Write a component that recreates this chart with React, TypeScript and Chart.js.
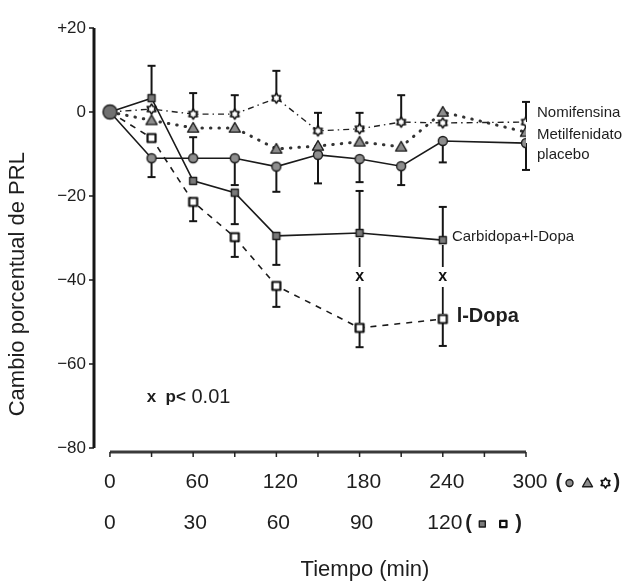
import React, { useEffect, useRef } from "react";
import { Chart, registerables } from "chart.js";

Chart.register(...registerables);

const FONT = '"Liberation Sans", Arial, Helvetica, sans-serif';

// ---- Data (300-min time scale for the first three series) ----
const timesMin = [0, 30, 60, 90, 120, 150, 180, 210, 240, 300];
const nomifensina = [0, 0.7, -0.5, -0.5, 3.3, -4.5, -4, -2.4, -2.6, -2.4];
const nomifensinaErrTo = [null, null, 4.5, 4, 9.8, -0.2, -0.2, 4, null, 2.4];
const metilfenidato = [0, -2, -3.8, -3.8, -8.8, -8.1, -7.1, -8.3, 0, -4.8];
const placebo = [0, -11, -11, -11, -13, -10.2, -11.2, -12.9, -6.9, -7.4];
const placeboErrTo = [null, -15.5, -6, -17.4, -19, -17, -16.7, -17.4, -12, -13.8];

// ---- Data (120-min time scale for the dopa series) ----
const timesDopa = [0, 15, 30, 45, 60, 90, 120];
const carbidopa = [0, 3.3, -16.4, -19.2, -29.5, -28.8, -30.5];
const carbidopaErrTo = [null, 11, null, -26.7, -36.4, -18.8, -22.6];
const lDopa = [0, -6.2, -21.4, -29.8, -41.4, -51.4, -49.3];
const lDopaErrTo = [null, null, -26, -34.5, -46.4, -56, -55.7];
const sigTimes = [90, 120];
const sigMarkAt = [-39.3, -39.3];

// ---- Axes ----
const yTicks = [20, 0, -20, -40, -60, -80];
const yTickLabels = ["+20", "0", "\u221220", "\u221240", "\u221260", "\u221280"];
const xTickMarks = [0, 30, 60, 90, 120, 150, 180, 210, 240, 270, 300];
const xLabels300 = [0, 60, 120, 180, 240, 300];
const xLabels120 = [0, 30, 60, 90, 120];
const DOPA_TO_MAIN = 300 / 150; // 120 min on the lower row sits under 240 on the upper row

type Kind = "dot" | "circle" | "triangle" | "star" | "fsquare" | "osquare";

function drawShape(ctx: CanvasRenderingContext2D, kind: Kind, cx: number, cy: number, r: number) {
  ctx.save();
  ctx.lineJoin = "round";
  ctx.beginPath();
  let fill = "#8c8c8c";
  let stroke = "#1c1c1c";
  let lw = 1.4;
  if (kind === "dot" || kind === "circle") {
    ctx.arc(cx, cy, r, 0, Math.PI * 2);
    fill = kind === "dot" ? "#707070" : "#8e8e8e";
  } else if (kind === "triangle") {
    ctx.moveTo(cx, cy - r);
    ctx.lineTo(cx + r, cy + r * 0.75);
    ctx.lineTo(cx - r, cy + r * 0.75);
    ctx.closePath();
  } else if (kind === "star") {
    for (let k = 0; k < 12; k++) {
      const a = -Math.PI / 2 + (k * Math.PI) / 6;
      const rr = k % 2 === 0 ? r : r * 0.6;
      const px = cx + rr * Math.cos(a);
      const py = cy + rr * Math.sin(a);
      if (k === 0) ctx.moveTo(px, py);
      else ctx.lineTo(px, py);
    }
    ctx.closePath();
    fill = "#ffffff";
    stroke = "#111";
    lw = 1.6;
  } else if (kind === "fsquare") {
    ctx.rect(cx - r, cy - r, 2 * r, 2 * r);
    fill = "#7a7a7a";
  } else {
    ctx.rect(cx - r, cy - r, 2 * r, 2 * r);
    fill = "#ffffff";
    stroke = "#111";
    lw = 2.2;
  }
  ctx.fillStyle = fill;
  ctx.fill();
  ctx.lineWidth = lw;
  ctx.strokeStyle = stroke;
  ctx.stroke();
  ctx.restore();
}

function makeMarker(kind: Kind, r: number): HTMLCanvasElement {
  const size = Math.ceil(2 * r + 5);
  const c = document.createElement("canvas");
  c.width = size;
  c.height = size;
  const ctx = c.getContext("2d")!;
  drawShape(ctx, kind, size / 2, size / 2, r);
  return c;
}

export default function App() {
  const ref = useRef<HTMLCanvasElement | null>(null);

  useEffect(() => {
    document.body.style.margin = "0";
    const canvas = ref.current;
    if (!canvas) return;

    const mainPts = (vals: number[]) => timesMin.map((t, i) => ({ x: t, y: vals[i] }));
    const dopaPts = (vals: number[]) => timesDopa.map((t, i) => ({ x: t * DOPA_TO_MAIN, y: vals[i] }));
    const hideFirst = (n: number, r: number) => Array.from({ length: n }, (_, i) => (i === 0 ? 0 : r));

    const starImg = makeMarker("star", 5);
    const triImg = makeMarker("triangle", 5.5);
    const circImg = makeMarker("circle", 4.5);
    const fsqImg = makeMarker("fsquare", 3.5);
    const osqImg = makeMarker("osquare", 4);
    const dotImg = makeMarker("dot", 7);

    const errorPlugin = {
      id: "errorBars",
      beforeDatasetsDraw(chart: any) {
        const { ctx, scales } = chart;
        const xs = scales.x;
        const ys = scales.y;
        ctx.save();
        ctx.strokeStyle = "#151515";
        ctx.lineWidth = 2;
        ctx.lineCap = "butt";
        const bar = (xv: number, yv: number, ye: number | null) => {
          if (ye === null || ye === undefined) return;
          const px = xs.getPixelForValue(xv);
          const py = ys.getPixelForValue(yv);
          const pe = ys.getPixelForValue(ye);
          ctx.beginPath();
          ctx.moveTo(px, py);
          ctx.lineTo(px, pe);
          ctx.stroke();
          ctx.beginPath();
          ctx.moveTo(px - 4, pe);
          ctx.lineTo(px + 4, pe);
          ctx.stroke();
        };
        timesMin.forEach((t, i) => {
          bar(t, nomifensina[i], nomifensinaErrTo[i]);
          bar(t, placebo[i], placeboErrTo[i]);
        });
        timesDopa.forEach((t, i) => {
          bar(t * DOPA_TO_MAIN, carbidopa[i], carbidopaErrTo[i]);
          bar(t * DOPA_TO_MAIN, lDopa[i], lDopaErrTo[i]);
        });
        // significance connectors
        ctx.lineWidth = 1.8;
        ctx.fillStyle = "#111";
        ctx.font = `bold 16px ${FONT}`;
        ctx.textAlign = "center";
        ctx.textBaseline = "middle";
        sigTimes.forEach((t, i) => {
          const idx = timesDopa.indexOf(t);
          const px = xs.getPixelForValue(t * DOPA_TO_MAIN);
          const top = ys.getPixelForValue(carbidopa[idx]);
          const bot = ys.getPixelForValue(lDopa[idx]);
          const mid = ys.getPixelForValue(sigMarkAt[i]);
          ctx.beginPath();
          ctx.moveTo(px, top + 5);
          ctx.lineTo(px, mid - 10);
          ctx.moveTo(px, mid + 10);
          ctx.lineTo(px, bot - 5);
          ctx.stroke();
          ctx.fillText("x", px, mid);
        });
        ctx.restore();
      },
    };

    const axesPlugin = {
      id: "customAxes",
      afterDraw(chart: any) {
        const { ctx, scales } = chart;
        const xs = scales.x;
        const ys = scales.y;
        ctx.save();
        // y axis
        const ax = chart.chartArea.left;
        ctx.strokeStyle = "#161616";
        ctx.lineWidth = 3;
        ctx.beginPath();
        ctx.moveTo(ax, ys.getPixelForValue(yTicks[0]));
        ctx.lineTo(ax, ys.getPixelForValue(yTicks[yTicks.length - 1]));
        ctx.stroke();
        ctx.lineWidth = 1.5;
        ctx.fillStyle = "#1e1e1e";
        ctx.font = `17px ${FONT}`;
        ctx.textAlign = "right";
        ctx.textBaseline = "middle";
        yTicks.forEach((v, i) => {
          const py = ys.getPixelForValue(v);
          ctx.beginPath();
          ctx.moveTo(ax - 5, py);
          ctx.lineTo(ax, py);
          ctx.stroke();
          ctx.fillText(yTickLabels[i], ax - 8, py);
        });
        // y title
        ctx.save();
        ctx.translate(18, ys.getPixelForValue(-41));
        ctx.rotate(-Math.PI / 2);
        ctx.textAlign = "center";
        ctx.font = `22px ${FONT}`;
        ctx.fillText("Cambio porcentual de PRL", 0, 0);
        ctx.restore();

        // x axis
        const axisY = chart.chartArea.bottom + 4;
        const x0 = xs.getPixelForValue(0);
        const x1 = xs.getPixelForValue(300);
        ctx.strokeStyle = "#3a3a3a";
        ctx.lineWidth = 3;
        ctx.beginPath();
        ctx.moveTo(x0, axisY);
        ctx.lineTo(x1, axisY);
        ctx.stroke();
        ctx.lineWidth = 1.5;
        ctx.strokeStyle = "#222";
        xTickMarks.forEach((v) => {
          const px = xs.getPixelForValue(v);
          ctx.beginPath();
          ctx.moveTo(px, axisY);
          ctx.lineTo(px, axisY + 5);
          ctx.stroke();
        });
        ctx.font = `21px ${FONT}`;
        ctx.textAlign = "center";
        ctx.textBaseline = "middle";
        ctx.fillStyle = "#1e1e1e";
        const row1 = axisY + 30;
        const row2 = axisY + 71;
        xLabels300.forEach((v) => {
          const px = xs.getPixelForValue(v) + (v === 0 ? 0 : 4);
          ctx.fillText(String(v), px, row1);
          if (v === 300) {
            const right = px + ctx.measureText("300").width / 2;
            ctx.textAlign = "left";
            ctx.font = `bold 20px ${FONT}`;
            ctx.fillText("(", right + 8, row1);
            ctx.fillText(")", right + 66, row1);
            ctx.font = `21px ${FONT}`;
            ctx.textAlign = "center";
            drawShape(ctx, "circle", right + 22, row1 + 1, 3.5);
            drawShape(ctx, "triangle", right + 40, row1 + 1, 5);
            drawShape(ctx, "star", right + 58, row1 + 1, 5);
          }
        });
        xLabels120.forEach((v) => {
          const px = xs.getPixelForValue(v * DOPA_TO_MAIN) + (v === 0 ? 0 : 2);
          ctx.fillText(String(v), px, row2);
          if (v === 120) {
            const right = px + ctx.measureText("120").width / 2;
            ctx.textAlign = "left";
            ctx.font = `bold 20px ${FONT}`;
            ctx.fillText("(", right + 3, row2);
            ctx.fillText(")", right + 53, row2);
            ctx.font = `21px ${FONT}`;
            ctx.textAlign = "center";
            drawShape(ctx, "fsquare", right + 20, row2 + 1, 3);
            drawShape(ctx, "osquare", right + 41, row2 + 1, 3.2);
          }
        });
        ctx.font = `22px ${FONT}`;
        ctx.fillText("Tiempo (min)", (x0 + x1) / 2 + 47, axisY + 118);

        // series labels
        ctx.textAlign = "left";
        ctx.font = `15px ${FONT}`;
        ctx.fillText("Nomifensina", xs.getPixelForValue(300) + 11, ys.getPixelForValue(-0.2));
        ctx.fillText("Metilfenidato", xs.getPixelForValue(300) + 11, ys.getPixelForValue(-5.4));
        ctx.fillText("placebo", xs.getPixelForValue(300) + 11, ys.getPixelForValue(-10.2));
        ctx.fillText("Carbidopa+l-Dopa", xs.getPixelForValue(246.6), ys.getPixelForValue(-29.8));
        ctx.font = `bold 20px ${FONT}`;
        ctx.fillText("l-Dopa", xs.getPixelForValue(250), ys.getPixelForValue(-48.8));
        // significance note
        ctx.font = `bold 17px ${FONT}`;
        ctx.fillText("x  p<", xs.getPixelForValue(26.5), ys.getPixelForValue(-68));
        const w = ctx.measureText("x  p<").width;
        ctx.font = `20px ${FONT}`;
        ctx.fillText(" 0.01", xs.getPixelForValue(26.5) + w, ys.getPixelForValue(-68));
        ctx.restore();
      },
    };

    const chart = new Chart(canvas, {
      type: "line",
      data: {
        datasets: [
          {
            label: "origen",
            data: [{ x: timesMin[0], y: placebo[0] }],
            showLine: false,
            pointStyle: dotImg as any,
            pointRadius: 7,
          },
          {
            label: "Nomifensina",
            data: mainPts(nomifensina),
            borderColor: "#222",
            borderWidth: 1.4,
            borderDash: [6, 4, 1.5, 4],
            pointStyle: starImg as any,
            pointRadius: hideFirst(timesMin.length, 5),
          },
          {
            label: "Metilfenidato",
            data: mainPts(metilfenidato),
            borderColor: "#333",
            borderWidth: 3,
            borderDash: [0.5, 8],
            borderCapStyle: "round",
            pointStyle: triImg as any,
            pointRadius: hideFirst(timesMin.length, 5),
          },
          {
            label: "placebo",
            data: mainPts(placebo),
            borderColor: "#1a1a1a",
            borderWidth: 1.6,
            pointStyle: circImg as any,
            pointRadius: hideFirst(timesMin.length, 5),
          },
          {
            label: "Carbidopa+l-Dopa",
            data: dopaPts(carbidopa),
            borderColor: "#1a1a1a",
            borderWidth: 1.6,
            pointStyle: fsqImg as any,
            pointRadius: hideFirst(timesDopa.length, 4),
          },
          {
            label: "l-Dopa",
            data: dopaPts(lDopa),
            borderColor: "#1a1a1a",
            borderWidth: 1.6,
            borderDash: [6, 6],
            pointStyle: osqImg as any,
            pointRadius: hideFirst(timesDopa.length, 4),
          },
        ],
      },
      options: {
        animation: false,
        responsive: true,
        maintainAspectRatio: false,
        layout: { padding: { left: 94, right: 108, top: 28, bottom: 133 } },
        plugins: { legend: { display: false }, tooltip: { enabled: false } },
        elements: { line: { tension: 0, fill: false } },
        scales: {
          x: { type: "linear", display: false, min: -11.5, max: 300 },
          y: { type: "linear", display: false, min: -80, max: 20 },
        },
      },
      plugins: [errorPlugin, axesPlugin],
    });
    return () => chart.destroy();
  }, []);

  return (
    <div style={{ width: 634, height: 581, position: "relative", background: "#fff" }}>
      <canvas ref={ref} />
    </div>
  );
}
